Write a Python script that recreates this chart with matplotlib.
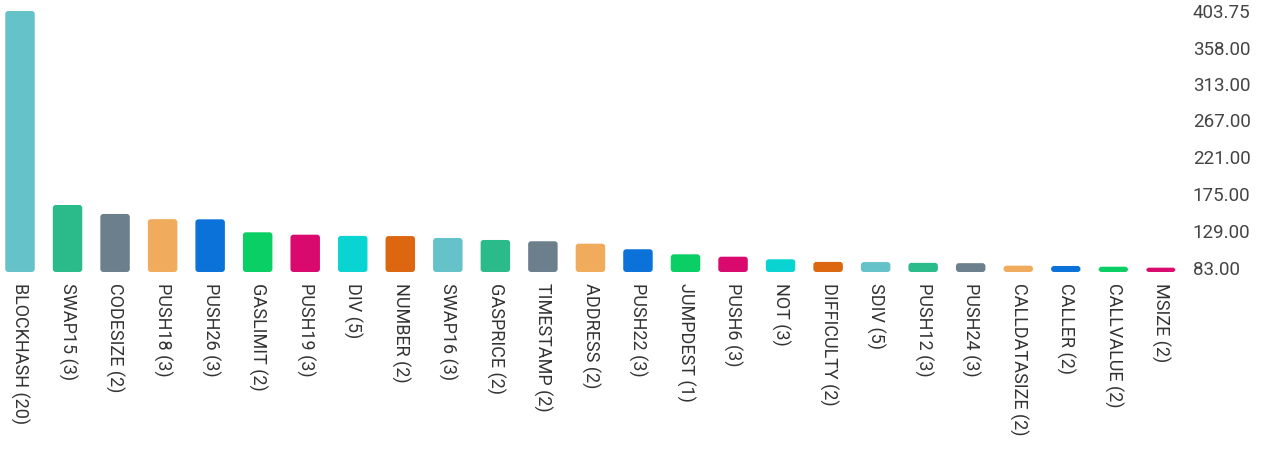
import matplotlib
matplotlib.use("Agg")
import matplotlib.pyplot as plt
from matplotlib.patches import FancyBboxPatch

# Opcode labels (with occurrence counts) and their values
opcodes = ["BLOCKHASH (20)", "SWAP15 (3)", "CODESIZE (2)", "PUSH18 (3)", "PUSH26 (3)",
           "GASLIMIT (2)", "PUSH19 (3)", "DIV (5)", "NUMBER (2)", "SWAP16 (3)",
           "GASPRICE (2)", "TIMESTAMP (2)", "ADDRESS (2)", "PUSH22 (3)", "JUMPDEST (1)",
           "PUSH6 (3)", "NOT (3)", "DIFFICULTY (2)", "SDIV (5)", "PUSH12 (3)",
           "PUSH24 (3)", "CALLDATASIZE (2)", "CALLER (2)", "CALLVALUE (2)", "MSIZE (2)"]
values = [403.75, 161.3, 150.1, 143.6, 143.4,
          127.2, 124.2, 122.7, 122.5, 120.1,
          117.6, 116.0, 113.0, 106.0, 99.7,
          96.7, 93.5, 90.2, 90.0, 89.0,
          88.6, 85.5, 85.1, 84.2, 83.0]
palette = ["#66c2c9", "#2bbb8b", "#6b7f8d", "#f0ac5c", "#0b72d9",
           "#0acf65", "#d9096e", "#0ad4d2", "#dd6710"]

tick_values = [83.0, 129.0, 175.0, 221.0, 267.0, 313.0, 358.0, 403.75]
tick_labels = ["83.00", "129.00", "175.00", "221.00", "267.00", "313.00", "358.00", "403.75"]

plt.rcParams["font.family"] = ["Roboto", "DejaVu Sans"]

fig = plt.figure(figsize=(12.7, 4.5), dpi=100)
ax = fig.add_axes([0.0004, 0.3956, 0.929, 0.58])

y_floor = 77.6
ax.set_xlim(-0.41, len(opcodes) - 1 + 0.41)
ax.set_ylim(y_floor, 403.75)

# data units per pixel, used to keep the corner rounding circular
fig.canvas.draw()
bbox = ax.get_window_extent()
x0, x1 = ax.get_xlim()
y0, y1 = ax.get_ylim()
px_x = (x1 - x0) / bbox.width
px_y = (y1 - y0) / bbox.height

bar_w = 0.62
radius_px = 3.0
for i, v in enumerate(values):
    patch = FancyBboxPatch(
        (i - bar_w / 2, y_floor), bar_w, v - y_floor,
        boxstyle=f"round,pad=0,rounding_size={radius_px * px_x}",
        mutation_aspect=px_y / px_x,
        facecolor=palette[i % len(palette)], edgecolor="none",
    )
    ax.add_patch(patch)

ax.set_xticks(range(len(opcodes)))
ax.set_xticklabels(opcodes, rotation=270, va="top", ha="center",
                   fontsize=13, color="#333333")
ax.yaxis.tick_right()
ax.set_yticks(tick_values)
ax.set_yticklabels(tick_labels, fontsize=13.5, color="#444444")
ax.tick_params(axis="both", length=0)
ax.tick_params(axis="x", pad=8)
ax.tick_params(axis="y", pad=9)
for s in ax.spines.values():
    s.set_visible(False)

fig.savefig("out.png", dpi=100, facecolor="white")
